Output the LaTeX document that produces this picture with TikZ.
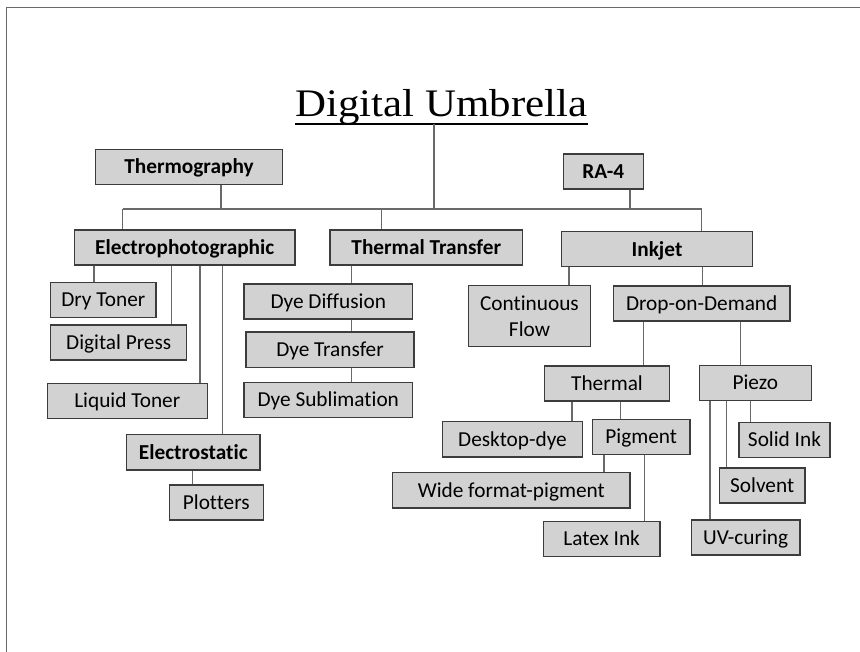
\documentclass[tikz,border=0pt]{standalone}
\usepackage{fontspec}
\setmainfont{Carlito}[Ligatures=NoCommon]
\newfontfamily\titlefont{Liberation Serif}
\definecolor{boxfill}{RGB}{210,210,210}
\definecolor{boxline}{RGB}{60,60,60}
\definecolor{conn}{RGB}{105,105,105}
\begin{document}
\begin{tikzpicture}[x=1pt,y=-1pt,
  boxbase/.style={draw=boxline,fill=boxfill,line width=1.3pt,inner sep=0pt,align=center,
    font=\fontsize{21.3}{25.5}\selectfont},
  bx/.style={boxbase,text height=15.7pt,text depth=2pt},
  bb/.style={bx,font=\fontsize{21.3}{25.5}\selectfont\bfseries},
  cn/.style={draw=conn,line width=1.3pt}]
\useasboundingbox (0,0) rectangle (860,652);
\draw[conn,line width=1.4pt] (6.5,652) -- (6.5,7.5) -- (860,7.5);
% title
\node[font=\titlefont\fontsize{39}{44}\selectfont,anchor=base,inner sep=0pt,xscale=1.1] (title) at (441.5,117) {Digital Umbrella};
\coordinate (ulL) at (295,124);
\coordinate (ulR) at (588,124);
\draw[line width=2pt] (ulL) -- (ulR);
\coordinate (tl) at (434,124);
\coordinate (busL) at (122.7,209);
\coordinate (busR) at (701.7,209);
% boxes
\node[bb,minimum width=187pt,minimum height=35pt] (thermo) at (189,167) {Thermography};
\node[bb,minimum width=80pt,minimum height=35pt] (ra4) at (603.3,171.5) {RA-4};
\node[bb,minimum width=220.7pt,minimum height=35pt] (electro) at (184.7,247.5) {Electrophotographic};
\node[bb,minimum width=192.7pt,minimum height=35pt] (tt) at (426.3,247.5) {Thermal Transfer};
\node[bb,minimum width=190.6pt,minimum height=35pt] (inkjet) at (657,249.2) {Inkjet};
\node[boxbase,minimum width=122.4pt,minimum height=61.4pt] (cf) at (529.5,316) {Continuous\\Flow};
\node[bx,minimum width=176.7pt,minimum height=35pt] (dod) at (701.7,303.5) {Drop-on-Demand};
\node[bx,minimum width=124.6pt,minimum height=35pt] (thermal) at (607,383.5) {Thermal};
\node[bx,minimum width=112pt,minimum height=35pt] (piezo) at (755.3,382.8) {Piezo};
\node[bx,minimum width=139.6pt,minimum height=35.3pt] (desk) at (512.5,439.3) {Desktop-dye};
\node[bx,minimum width=97.7pt,minimum height=35pt] (pig) at (641.2,436.8) {Pigment};
\node[bx,minimum width=237.3pt,minimum height=35.3pt] (wide) at (511.3,490.3) {Wide format-pigment};
\node[bx,minimum width=116.7pt,minimum height=35.4pt] (latex) at (601.7,539) {Latex Ink};
\node[bx,minimum width=91pt,minimum height=35pt] (solid) at (784.5,439.8) {Solid Ink};
\node[bx,minimum width=85.7pt,minimum height=35pt] (solvent) at (762.2,485.5) {Solvent};
\node[bx,minimum width=108.7pt,minimum height=35pt] (uv) at (745.7,537.5) {UV-curing};
\node[bx,minimum width=105.3pt,minimum height=34.6pt] (dry) at (103.3,300) {Dry Toner};
\node[bx,minimum width=136pt,minimum height=35pt] (press) at (118.7,342.5) {Digital Press};
\node[bx,minimum width=160pt,minimum height=35pt] (liquid) at (127.3,400.8) {Liquid Toner};
\node[bb,minimum width=133.3pt,minimum height=35.3pt] (estat) at (193.3,452.3) {Electrostatic};
\node[bx,minimum width=94pt,minimum height=35pt] (plot) at (216.3,502.5) {Plotters};
\node[bx,minimum width=168.7pt,minimum height=35pt] (ddiff) at (328.3,301.5) {Dye Diffusion};
\node[bx,minimum width=168pt,minimum height=35.3pt] (dtrans) at (330,349.7) {Dye Transfer};
\node[bx,minimum width=168.7pt,minimum height=34.6pt] (dsub) at (328.3,400) {Dye Sublimation};
% connectors
\draw[cn] (tl) -- (tl |- busL);
\draw[cn] (busL) -- (busR);
\draw[cn] (thermo.south -| 221,0) -- (busL -| 221,0);
\draw[cn] (ra4.south -| 630,0) -- (busL -| 630,0);
\draw[cn] (busL) -- (electro.north -| busL);
\draw[cn] (busL -| 381.7,0) -- (tt.north -| 381.7,0);
\draw[cn] (busR) -- (inkjet.north -| busR);
\draw[cn] (electro.south -| 94,0) -- (dry.north -| 94,0);
\draw[cn] (electro.south -| 171.7,0) -- (press.north -| 171.7,0);
\draw[cn] (electro.south -| 200,0) -- (liquid.north -| 200,0);
\draw[cn] (electro.south -| 222.7,0) -- (estat.north -| 222.7,0);
\draw[cn] (estat.south -| 192.7,0) -- (plot.north -| 192.7,0);
\draw[cn] (tt.south -| 351.7,0) -- (ddiff.north -| 351.7,0);
\draw[cn] (ddiff.south -| 351.7,0) -- (dtrans.north -| 351.7,0);
\draw[cn] (dtrans.south -| 351.7,0) -- (dsub.north -| 351.7,0);
\draw[cn] (inkjet.south -| 569,0) -- (cf.north -| 569,0);
\draw[cn] (inkjet.south -| 702.7,0) -- (dod.north -| 702.7,0);
\draw[cn] (dod.south -| 643.7,0) -- (thermal.north -| 643.7,0);
\draw[cn] (dod.south -| 740.7,0) -- (piezo.north -| 740.7,0);
\draw[cn] (thermal.south -| 572,0) -- (desk.north -| 572,0);
\draw[cn] (thermal.south -| 620.7,0) -- (pig.north -| 620.7,0);
\draw[cn] (pig.south -| 604,0) -- (wide.north -| 604,0);
\draw[cn] (pig.south -| 644.3,0) -- (latex.north -| 644.3,0);
\draw[cn] (piezo.south -| 710,0) -- (uv.north -| 710,0);
\draw[cn] (piezo.south -| 726.7,0) -- (solvent.north -| 726.7,0);
\draw[cn] (piezo.south -| 750.7,0) -- (solid.north -| 750.7,0);
\end{tikzpicture}
\end{document}
